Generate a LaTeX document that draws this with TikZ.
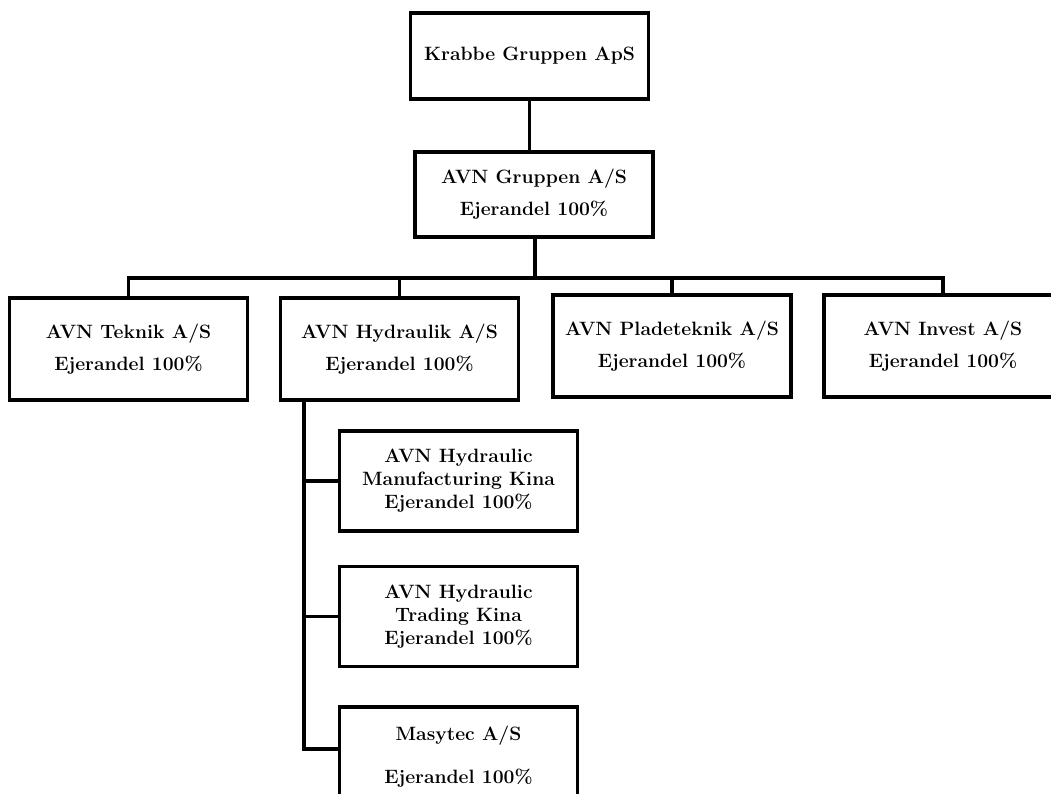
\documentclass[tikz,border=0pt]{standalone}
\usepackage{fontspec}
\begin{document}
\begin{tikzpicture}[x=1pt,y=-1pt,
  box/.style={draw, line width=3.2pt, minimum width=238pt, minimum height=102pt,
    align=center, inner sep=0pt, font=\bfseries\fontsize{19.3}{23}\selectfont},
  conn/.style={line width=3.2pt}]
\useasboundingbox[fill=white] (0,0) rectangle (1051,793);
\node[box, minimum height=86pt] (krabbe) at (529.5,56) {Krabbe Gruppen ApS};
\node[box, minimum height=85pt] (gruppen) at (534,194.5) {AVN Gruppen A/S\\[9pt]Ejerandel 100\%};
\node[box] (teknik) at (128.5,349) {AVN Teknik A/S\\[9pt]Ejerandel 100\%};
\node[box] (hydraulik) at (399.5,349) {AVN Hydraulik A/S\\[9pt]Ejerandel 100\%};
\node[box] (plade) at (672,346) {AVN Pladeteknik A/S\\[9pt]Ejerandel 100\%};
\node[box] (invest) at (943,346) {AVN Invest A/S\\[9pt]Ejerandel 100\%};
\node[box, minimum height=100pt] (manuf) at (458.5,481) {AVN Hydraulic\\Manufacturing Kina\\Ejerandel 100\%};
\node[box, minimum height=100pt] (trading) at (458.5,616.5) {AVN Hydraulic\\Trading Kina\\Ejerandel 100\%};
\node[box, minimum height=100pt] (masytec) at (458.5,757) {Masytec A/S\\[20pt]Ejerandel 100\%};
\coordinate (bus) at (535,278);
\coordinate (htop) at (304,400);
\coordinate (hbot) at (304,749);
\draw[conn] (krabbe.south) -- (krabbe.south |- gruppen.north);
\draw[conn] (gruppen.south -| bus) -- (bus);
\draw[conn] (teknik.north) -- (teknik.north |- bus) -- (invest.north |- bus) -- (invest.north);
\draw[conn] (hydraulik.north) -- (hydraulik.north |- bus);
\draw[conn] (plade.north) -- (plade.north |- bus);
\draw[conn] (htop) -- (hbot) -- (masytec.west |- hbot);
\draw[conn] (manuf.west -| htop) -- (manuf.west);
\draw[conn] (trading.west -| htop) -- (trading.west);
\end{tikzpicture}
\end{document}
